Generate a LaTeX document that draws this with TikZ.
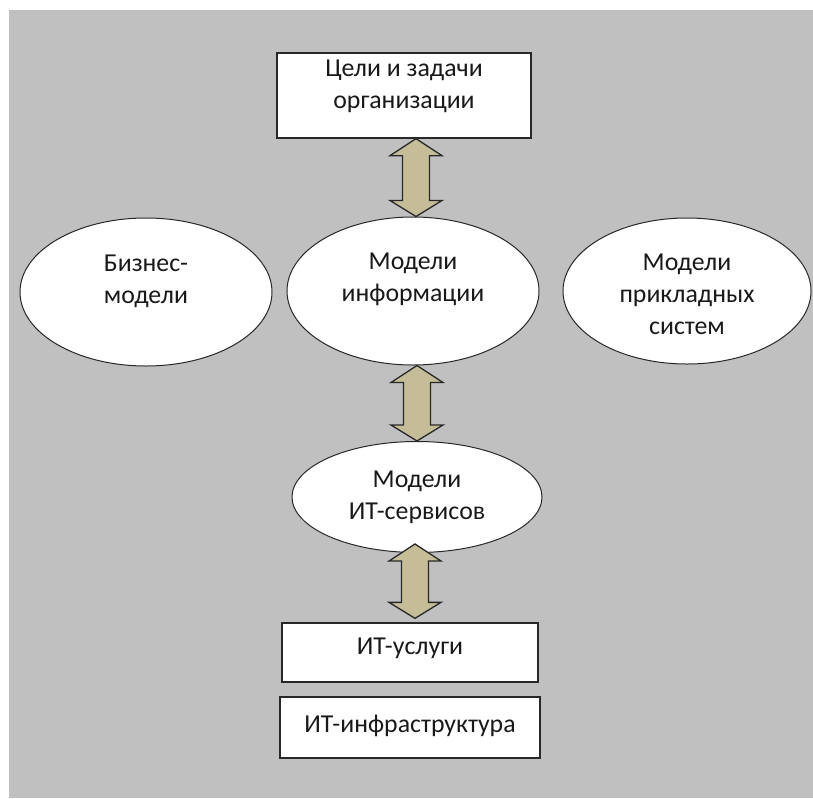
\documentclass[tikz,border=0pt]{standalone}
\usepackage{fontspec}
\setmainfont{Carlito}
\usetikzlibrary{shapes.geometric,calc}
\definecolor{bggray}{RGB}{192,192,192}
\definecolor{arrowtan}{RGB}{196,189,151}
\definecolor{edgegray}{RGB}{40,40,40}

% double-headed block arrow between two tip coordinates (top, bottom)
\newcommand\blockarrow[2]{%
  \draw[bigarrow] (#1) -- ($(#1)+(26,17)$) -- ($(#1)+(13.5,17)$)
    -- ($(#2)+(13.5,-16)$) -- ($(#2)+(26,-16)$) -- (#2)
    -- ($(#2)+(-26,-16)$) -- ($(#2)+(-13.5,-16)$)
    -- ($(#1)+(-13.5,17)$) -- ($(#1)+(-26,17)$) -- cycle;}

\begin{document}
\begin{tikzpicture}[x=1pt,y=-1pt,
  every node/.style={font=\fontsize{25.8}{32}\selectfont, text=black!90},
  rectbox/.style={draw=edgegray, line width=1.3pt, fill=white, inner sep=0pt},
  ovalbox/.style={ellipse, draw=edgegray, line width=1pt, fill=white, inner sep=0pt},
  txt/.style={align=center},
  bigarrow/.style={draw=edgegray, line width=1.3pt, fill=arrowtan, line join=miter}]

% page and grey backdrop
\fill[white] (0,0) rectangle (813,798);
\fill[bggray] (9,10) rectangle (813,798);

% boxes and ovals
\node[rectbox, minimum width=254pt, minimum height=85pt,
  label={[txt,yshift=9.5pt]center:Цели и задачи\\организации}] (goals) at (404,95.5) {};
\node[ovalbox, minimum width=252pt, minimum height=148pt,
  label={[txt,yshift=11pt]center:Бизнес-\\модели}] (biz) at (146,292) {};
\node[ovalbox, minimum width=252pt, minimum height=148pt,
  label={[txt,yshift=12pt]center:Модели\\информации}] (info) at (413,291) {};
\node[ovalbox, minimum width=248pt, minimum height=146pt,
  label={[txt,yshift=-3pt]center:Модели\\прикладных\\систем}] (apps) at (687,291) {};
\node[ovalbox, minimum width=250pt, minimum height=111pt,
  label={[txt]center:Модели\\ИТ-сервисов}] (itsvc) at (417,497) {};
\node[rectbox, minimum width=256pt, minimum height=59pt,
  label={[txt,yshift=4pt]center:ИТ-услуги}] (svc) at (410,652.5) {};
\node[rectbox, minimum width=260pt, minimum height=61pt,
  label={[txt,yshift=2pt]center:ИТ-инфраструктура}] (infra) at (410,727.5) {};

% arrow axes
\coordinate (ax1) at (416,0);
\coordinate (ax2) at (417,0);
\coordinate (ax3) at (415,0);

\coordinate (a1t) at (goals.south -| ax1);
\coordinate (a1b) at (info.north -| ax1);
\coordinate (a2t) at (info.south -| ax2);
\coordinate (a2b) at (itsvc.north -| ax2);
\coordinate (a3t) at ($(itsvc.south -| ax3)+(0,-9)$);
\coordinate (a3b) at ($(svc.north -| ax3)+(0,-4)$);

\blockarrow{a1t}{a1b}
\blockarrow{a2t}{a2b}
\blockarrow{a3t}{a3b}
\end{tikzpicture}
\end{document}
